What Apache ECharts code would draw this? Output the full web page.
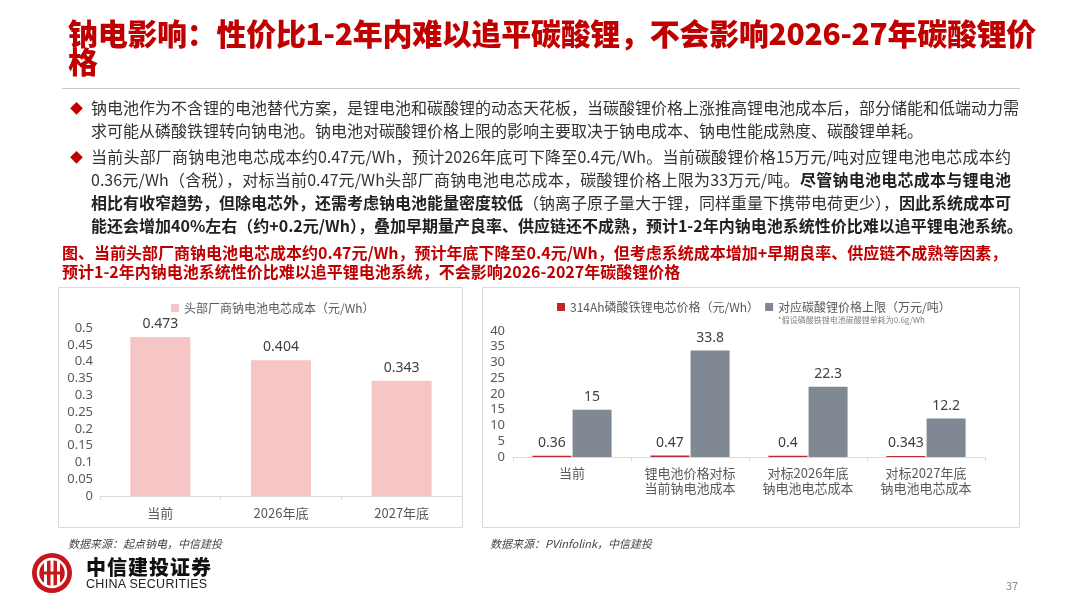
<!DOCTYPE html>
<html>
<head>
<meta charset="utf-8">
<script src="https://cdn.jsdelivr.net/npm/echarts@6/dist/echarts.min.js"></script>
<style>
  html, body { margin: 0; padding: 0; background: #fff; }
  body { width: 1080px; height: 608px; position: relative; overflow: hidden;
         font-family: "Noto Sans CJK SC", "Noto Sans", sans-serif; }
  #chart { position: absolute; left: 0; top: 0; width: 1080px; height: 608px; }
  .txt { position: absolute; white-space: nowrap; }
  #title { left: 68px; top: 18px; font-size: 30px; line-height: 28px; font-weight: 900; color: #c00000; letter-spacing: -0.3px; }
  #rule { position: absolute; left: 62px; top: 88px; width: 958px; height: 1px; background: #c8c8c8; }
  .body { left: 91px; width: 920px; font-size: 16px; line-height: 23px; color: #333; }
  .ln { white-space: nowrap; text-align: justify; text-align-last: justify; }
  .ln.end { text-align-last: left; }
  .body b { color: #222; }
  .dia { position: absolute; left: 70px; font-size: 13px; color: #c00000; line-height: 23px; }
  #cap { left: 62px; top: 243px; font-size: 16px; line-height: 19px; font-weight: 700; color: #c00000; }
  .src { font-size: 11px; font-style: italic; color: #444; top: 535px; }
  #logoTxt { left: 86px; top: 552px; font-size: 20px; font-weight: 900; color: #111; letter-spacing: 1px; }
  #logoEn { left: 86px; top: 577px; font-size: 12.5px; color: #222; font-family: "Liberation Sans", sans-serif; letter-spacing: 0.3px; }
  #page { left: 1006px; top: 577px; font-size: 11px; color: #888; }
</style>
</head>
<body>
<div id="chart"></div>

<div id="title" class="txt">钠电影响：性价比1-2年内难以追平碳酸锂，不会影响2026-27年碳酸锂价<br>格</div>
<div id="rule"></div>

<div class="dia" style="top:96px">◆</div>
<div class="dia" style="top:145px">◆</div>
<div class="txt body" style="top:96px">
  <div class="ln">钠电池作为不含锂的电池替代方案，是锂电池和碳酸锂的动态天花板，当碳酸锂价格上涨推高锂电池成本后，部分储能和低端动力需</div>
  <div class="ln end">求可能从磷酸铁锂转向钠电池。钠电池对碳酸锂价格上限的影响主要取决于钠电成本、钠电性能成熟度、碳酸锂单耗。</div>
</div>
<div class="txt body" style="top:145px">
  <div class="ln">当前头部厂商钠电池电芯成本约0.47元/Wh，预计2026年底可下降至0.4元/Wh。当前碳酸锂价格15万元/吨对应锂电池电芯成本约</div>
  <div class="ln">0.36元/Wh（含税），对标当前0.47元/Wh头部厂商钠电池电芯成本，碳酸锂价格上限为33万元/吨。<b>尽管钠电池电芯成本与锂电池</b></div>
  <div class="ln"><b>相比有收窄趋势，但除电芯外，还需考虑钠电池能量密度较低</b>（钠离子原子量大于锂，同样重量下携带电荷更少），<b>因此系统成本可</b></div>
  <div class="ln"><b>能还会增加40%左右（约+0.2元/Wh），叠加早期量产良率、供应链还不成熟，预计1-2年内钠电池系统性价比难以追平锂电池系统。</b></div>
</div>

<div id="cap" class="txt">图、当前头部厂商钠电池电芯成本约0.47元/Wh，预计年底下降至0.4元/Wh，但考虑系统成本增加+早期良率、供应链不成熟等因素，<br>预计1-2年内钠电池系统性价比难以追平锂电池系统，不会影响2026-2027年碳酸锂价格</div>

<div class="txt src" style="left:68px">数据来源：起点钠电，中信建投</div>
<div class="txt src" style="left:490px">数据来源：PVinfolink，中信建投</div>

<div id="logoTxt" class="txt">中信建投证券</div>
<div id="logoEn" class="txt">CHINA SECURITIES</div>
<div id="page" class="txt">37</div>

<script>
// left chart: sodium cell cost
const leftCats = ['当前', '2026年底', '2027年底'];
const naCellCost = [0.473, 0.404, 0.343];

// right chart: LFP cell price vs implied Li2CO3 price cap
const rightCats = ['当前', '锂电池价格对标\n当前钠电池成本', '对标2026年底\n钠电池电芯成本', '对标2027年底\n钠电池电芯成本'];
const lfpCellPrice = [0.36, 0.47, 0.4, 0.343];
const li2co3Cap = [15, 33.8, 22.3, 12.2];

const axisTxt = { color: '#595959', fontSize: 13, fontFamily: 'Noto Sans CJK SC' };
const lblTxt = { show: true, position: 'top', distance: 6, color: '#404040', fontSize: 14, fontFamily: 'Noto Sans' };

let chart = echarts.init(document.getElementById('chart'));
chart.setOption({
  animation: false,
  legend: [
    {
      data: ['头部厂商钠电池电芯成本（元/Wh）'],
      left: 166, top: 297, icon: 'rect', itemWidth: 8, itemHeight: 8,
      textStyle: { color: '#595959', fontSize: 12, fontFamily: 'Noto Sans CJK SC' }
    },
    {
      data: ['314Ah磷酸铁锂电芯价格（元/Wh）', '对应碳酸锂价格上限（万元/吨）'],
      left: 552, top: 296, icon: 'rect', itemWidth: 8, itemHeight: 8, itemGap: 6,
      textStyle: { color: '#595959', fontSize: 12, fontFamily: 'Noto Sans CJK SC' }
    }
  ],
  grid: [
    { left: 100, right: 618, top: 328, bottom: 112 },
    { left: 513, right: 95, top: 331, bottom: 151 }
  ],
  xAxis: [
    {
      type: 'category', gridIndex: 0, data: leftCats,
      axisLine: { lineStyle: { color: '#d9d9d9' } },
      axisTick: { show: true, length: 4, lineStyle: { color: '#d9d9d9' } },
      axisLabel: Object.assign({ margin: 11, interval: 0 }, axisTxt)
    },
    {
      type: 'category', gridIndex: 1, data: rightCats,
      axisLine: { lineStyle: { color: '#d9d9d9' } },
      axisTick: { show: true, length: 4, lineStyle: { color: '#d9d9d9' } },
      axisLabel: Object.assign({ margin: 9, lineHeight: 15, interval: 0 }, axisTxt)
    }
  ],
  yAxis: [
    {
      type: 'value', gridIndex: 0, min: 0, max: 0.5, interval: 0.05,
      splitLine: { show: false }, axisLine: { show: false },
      axisLabel: Object.assign({ margin: 7 }, axisTxt, { fontFamily: 'Noto Sans' })
    },
    {
      type: 'value', gridIndex: 1, min: 0, max: 40, interval: 5,
      splitLine: { show: false }, axisLine: { show: false },
      axisLabel: Object.assign({ margin: 8 }, axisTxt, { fontFamily: 'Noto Sans' })
    }
  ],
  series: [
    {
      name: '头部厂商钠电池电芯成本（元/Wh）', type: 'bar', xAxisIndex: 0, yAxisIndex: 0,
      data: naCellCost, barWidth: 60,
      itemStyle: { color: '#f5c6c5' }, label: lblTxt
    },
    {
      name: '314Ah磷酸铁锂电芯价格（元/Wh）', type: 'bar', xAxisIndex: 1, yAxisIndex: 1,
      data: lfpCellPrice, barWidth: 39, barGap: '3%',
      itemStyle: { color: '#c0282d' }, label: lblTxt
    },
    {
      name: '对应碳酸锂价格上限（万元/吨）', type: 'bar', xAxisIndex: 1, yAxisIndex: 1,
      data: li2co3Cap, barWidth: 39,
      itemStyle: { color: '#7f8893' }, label: lblTxt
    }
  ],
  graphic: [
    { type: 'rect', shape: { x: 58.5, y: 287.5, width: 404, height: 240 }, style: { fill: 'none', stroke: '#d9d9d9', lineWidth: 1 }, silent: true },
    { type: 'rect', shape: { x: 482.5, y: 287.5, width: 537, height: 240 }, style: { fill: 'none', stroke: '#d9d9d9', lineWidth: 1 }, silent: true },
    { type: 'text', left: 778, top: 316, style: { text: '*假设磷酸铁锂电池碳酸锂单耗为0.6g/Wh', fill: '#808080', fontSize: 8, fontFamily: 'Noto Sans CJK SC' } },
    // logo mark
    { type: 'circle', shape: { cx: 52, cy: 573, r: 20 }, style: { fill: '#c8161d' } },
    { type: 'circle', shape: { cx: 52, cy: 573, r: 14 }, style: { fill: 'none', stroke: '#fff', lineWidth: 2.5 } },
    { type: 'rect', shape: { x: 44, y: 561, width: 3, height: 24 }, style: { fill: '#fff' } },
    { type: 'rect', shape: { x: 50.5, y: 558, width: 3, height: 30 }, style: { fill: '#fff' } },
    { type: 'rect', shape: { x: 57, y: 561, width: 3, height: 24 }, style: { fill: '#fff' } },
    { type: 'rect', shape: { x: 40, y: 571.5, width: 24, height: 3 }, style: { fill: '#c8161d' } }
  ]
});
</script>
</body>
</html>
